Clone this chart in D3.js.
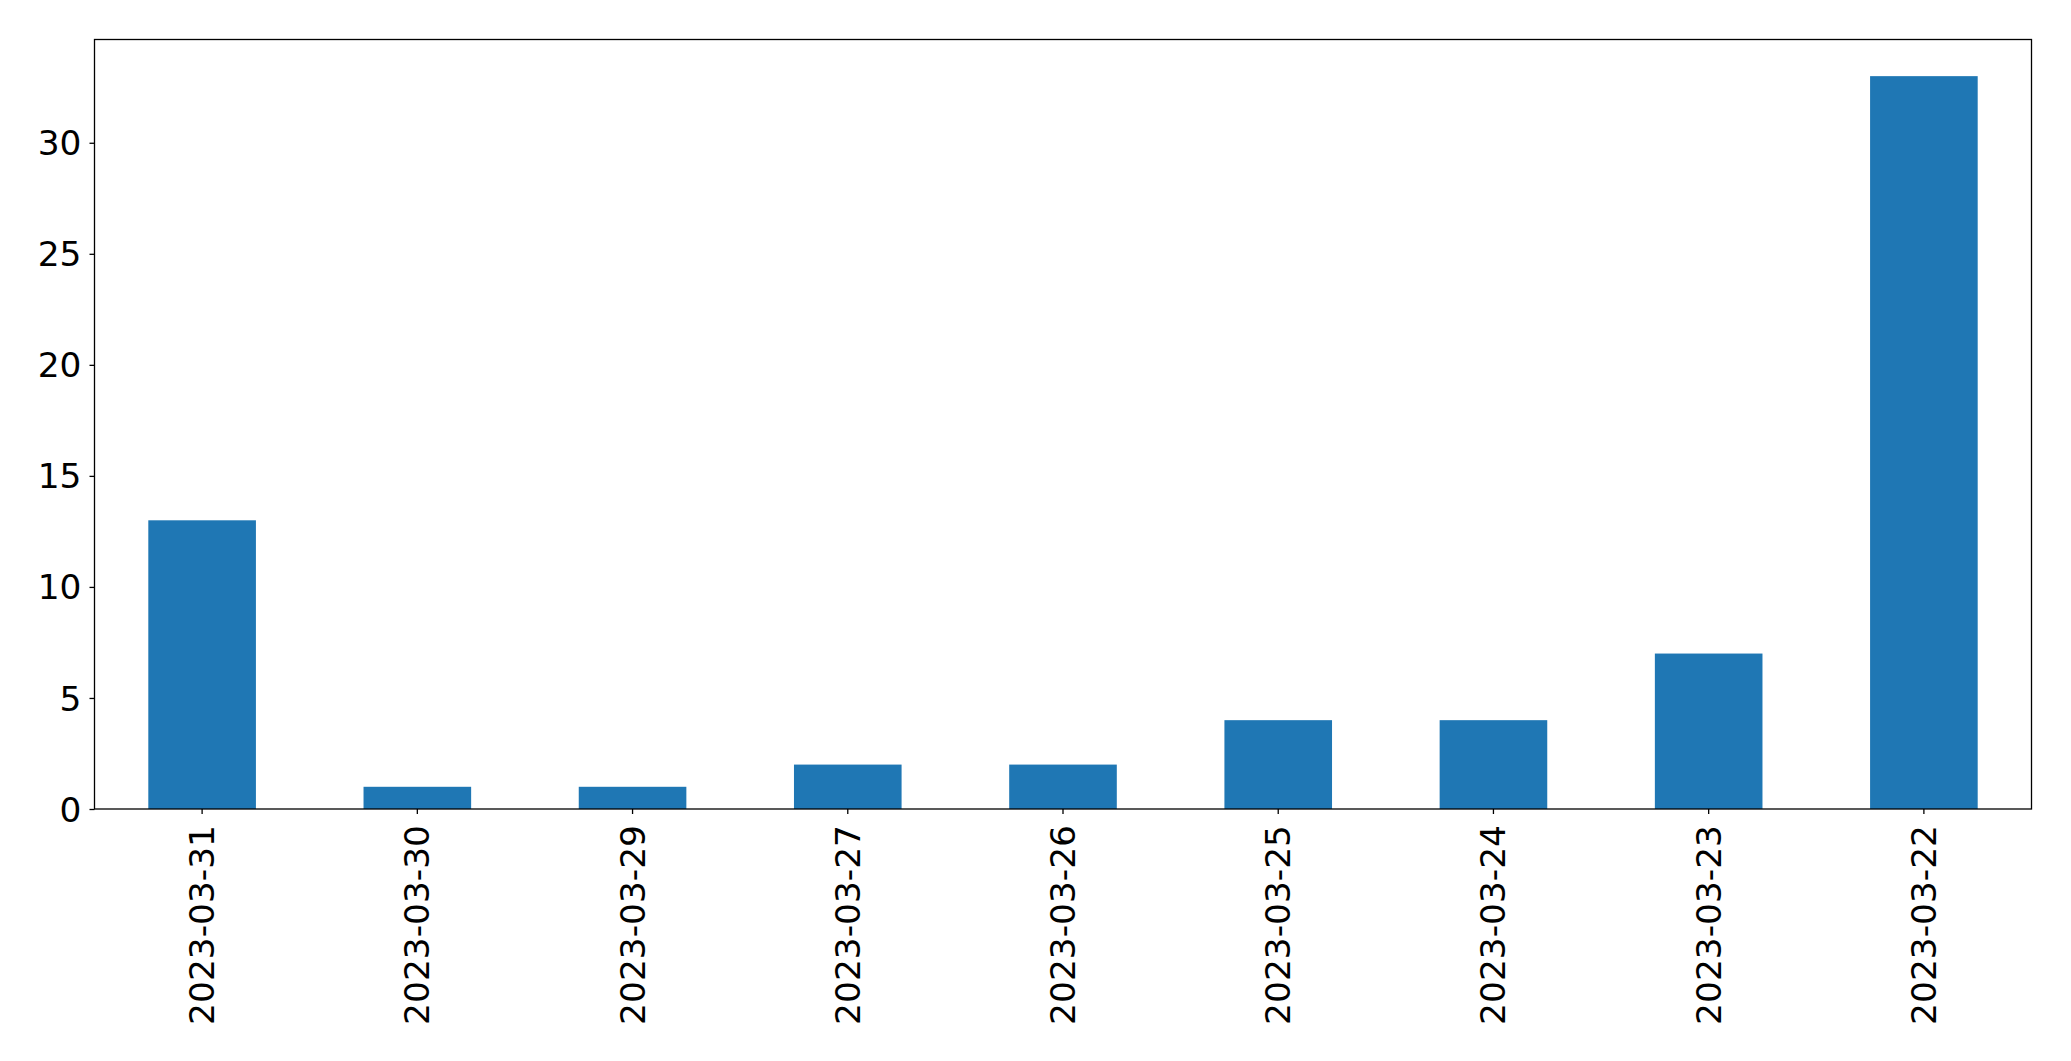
<!DOCTYPE html>
<html>
<head>
<meta charset="utf-8">
<script src="https://cdn.jsdelivr.net/npm/d3@7"></script>
<style>
  html, body { margin: 0; padding: 0; background: #fff; }
  svg { display: block; }
</style>
</head>
<body>
<script>
const categories = ["2023-03-31", "2023-03-30", "2023-03-29", "2023-03-27", "2023-03-26", "2023-03-25", "2023-03-24", "2023-03-23", "2023-03-22"];
const values = [13, 1, 1, 2, 2, 4, 4, 7, 33];
const yTicks = [0, 5, 10, 15, 20, 25, 30];

const W = 2071, H = 1061;
const mLeft = 94.5, mRight = 2031.5, mTop = 39.5, mBottom = 809;
const fontSize = 34.4;

const svg = d3.select("body").append("svg").attr("width", W).attr("height", H);

const x = d3.scaleBand().domain(categories).range([mLeft, mRight]).paddingInner(0.5).paddingOuter(0.25);
const y = d3.scaleLinear().domain([0, d3.max(values) * 1.05]).range([mBottom, mTop]);

svg.append("g").selectAll("rect").data(values).join("rect")
  .attr("x", (d, i) => x(categories[i]))
  .attr("width", x.bandwidth())
  .attr("y", d => y(d))
  .attr("height", d => y(0) - y(d))
  .attr("fill", "#1f77b4");

const xAxis = svg.append("g").attr("transform", `translate(0,${mBottom})`)
  .call(d3.axisBottom(x).tickSize(5).tickSizeOuter(0).tickPadding(0));
xAxis.select(".domain").remove();
xAxis.selectAll("line").attr("stroke", "#000").attr("stroke-width", 1.3);
xAxis.selectAll("text")
  .attr("font-family", "DejaVu Sans")
  .attr("font-size", fontSize)
  .attr("fill", "#000")
  .attr("transform", "rotate(-90)")
  .attr("text-anchor", "end")
  .attr("x", -16)
  .attr("y", 0)
  .attr("dy", "0.35em");

const yAxis = svg.append("g").attr("transform", `translate(${mLeft},0)`)
  .call(d3.axisLeft(y).tickValues(yTicks).tickFormat(d3.format("d")).tickSize(5).tickPadding(8));
yAxis.select(".domain").remove();
yAxis.selectAll("line").attr("stroke", "#000").attr("stroke-width", 1.3);
yAxis.selectAll("text")
  .attr("font-family", "DejaVu Sans")
  .attr("font-size", fontSize)
  .attr("fill", "#000")
  .attr("dy", "0.35em");

svg.append("rect")
  .attr("x", mLeft).attr("y", mTop)
  .attr("width", mRight - mLeft).attr("height", mBottom - mTop)
  .attr("fill", "none").attr("stroke", "#000").attr("stroke-width", 1.3);
</script>
</body>
</html>
